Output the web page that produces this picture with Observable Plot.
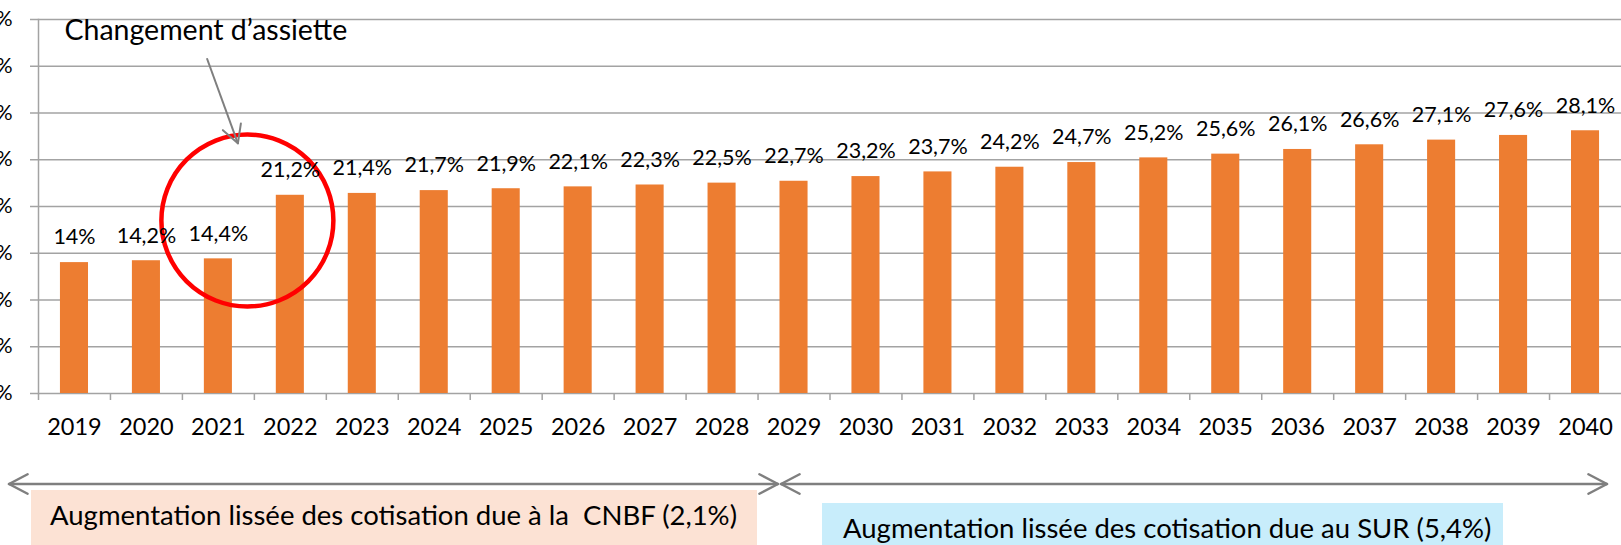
<!DOCTYPE html>
<html><head><meta charset="utf-8">
<script src="https://cdn.jsdelivr.net/npm/d3@7"></script>
<script src="https://cdn.jsdelivr.net/npm/@observablehq/plot@0.6"></script>
<style>
html,body{margin:0;padding:0;background:#fff;}
#wrap{position:relative;width:1621px;height:545px;overflow:hidden;font-family:Lato,sans-serif;}
#wrap svg{position:absolute;left:0;top:0;}
</style></head><body>
<div id="wrap"></div>
<script>
const years = ["2019","2020","2021","2022","2023","2024","2025","2026","2027","2028","2029","2030","2031","2032","2033","2034","2035","2036","2037","2038","2039","2040"];
const rates = [14.0,14.2,14.4,21.2,21.4,21.7,21.9,22.1,22.3,22.5,22.7,23.2,23.7,24.2,24.7,25.2,25.6,26.1,26.6,27.1,27.6,28.1];
const rateLabels = ["14%","14,2%","14,4%","21,2%","21,4%","21,7%","21,9%","22,1%","22,3%","22,5%","22,7%","23,2%","23,7%","24,2%","24,7%","25,2%","25,6%","26,1%","26,6%","27,1%","27,6%","28,1%"];
const yTicks = [0,5,10,15,20,25,30,35,40];
const calloutText = "Changement d’assiette";
const bandTexts = ["Augmentation lissée des cotisation due à la  CNBF (2,1%)", "Augmentation lissée des cotisation due au SUR (5,4%)"];

const data = years.map((y,i)=>({year:y, rate:rates[i], label:rateLabels[i]}));
const W = 1621, H = 445, ML = 38;
const step = (W - ML) / years.length;
const grey = "#a3a3a3";

const chart = Plot.plot({
  width: W, height: H,
  marginLeft: ML, marginRight: 0, marginTop: 19, marginBottom: 52,
  style: {fontFamily: "Lato, sans-serif", background: "transparent", overflow: "visible"},
  x: {domain: years, paddingInner: 0.61, paddingOuter: 0.305, round: false, axis: null, label: null},
  y: {domain: [0, 40], axis: null, label: null},
  marks: [
    Plot.gridY(yTicks, {stroke: grey, strokeOpacity: 1, strokeWidth: 1.5}),
    Plot.axisY(yTicks, {tickSize: 8, tickPadding: 18, stroke: grey, strokeWidth: 1.5, tickFormat: d => d + "%", fontSize: 21, fill: "black", label: null}),
    Plot.frame({anchor: "left", stroke: grey, strokeWidth: 1.5}),
    Plot.barY(data, {x: "year", y: "rate", fill: "#ED7D31"}),
    Plot.axisX(years, {tickSize: 7, dx: -step/2, stroke: grey, strokeWidth: 1.5, tickFormat: () => "", label: null}),
    Plot.axisX(years, {tickSize: 0, tickPadding: 25, fontSize: 23.5, fill: "black", label: null}),
    Plot.dot([{year: "2021", y: 18.5}], {x: "year", y: "y", r: 86, dx: 29, stroke: "#FF0000", strokeWidth: 4.5, fill: "none"}),
    Plot.text(data, {x: "year", y: "rate", text: "label", dy: -25, fontSize: 21.5, fill: "black"}),
    Plot.text([calloutText], {frameAnchor: "top-left", dx: 26, dy: 0, lineAnchor: "top", textAnchor: "start", fontSize: 28.5, fill: "black"})
  ]
});
document.getElementById("wrap").appendChild(chart);

// callout arrow using the chart's own scales
const xs = chart.scale("x"), ys = chart.scale("y");
const cx = xs.apply("2021") + xs.bandwidth / 2;
const svg = d3.select(chart);
function arrowHead(g, x1, y1, x2, y2, len, ang, color, w) {
  const a = Math.atan2(y1 - y2, x1 - x2);
  [ang, -ang].forEach(d => {
    g.append("line").attr("x1", x2).attr("y1", y2)
      .attr("x2", x2 + len * Math.cos(a + d)).attr("y2", y2 + len * Math.sin(a + d))
      .attr("stroke", color).attr("stroke-width", w).attr("stroke-linecap", "round");
  });
}
const ag = svg.append("g");
const ax1 = cx - 11, ay1 = ys.apply(35.8), ax2 = cx + 20, ay2 = ys.apply(26.7);
ag.append("line").attr("x1", ax1).attr("y1", ay1).attr("x2", ax2).attr("y2", ay2)
  .attr("stroke", "#7f7f7f").attr("stroke-width", 2);
arrowHead(ag, ax1, ay1, ax2, ay2, 20, Math.PI / 6.3, "#7f7f7f", 2);

// bottom period annotations
const ov = d3.select("#wrap").append("svg").attr("width", W).attr("height", 545)
  .style("font-family", "Lato, sans-serif");
ov.append("rect").attr("x", 31).attr("y", 490).attr("width", 726).attr("height", 70).attr("fill", "#FCE2D4");
ov.append("rect").attr("x", 822).attr("y", 503).attr("width", 681).attr("height", 60).attr("fill", "#C8EDFB");
ov.append("text").attr("x", 50).attr("y", 525).attr("font-size", 27.5).attr("fill", "black")
  .style("white-space", "pre").text(bandTexts[0]);
ov.append("text").attr("x", 843).attr("y", 538).attr("font-size", 27.5).attr("fill", "black")
  .style("white-space", "pre").text(bandTexts[1]);
const lineY = 484, ac = "#7f7f7f";
[[9, 778], [781, 1607]].forEach(([a, b]) => {
  ov.append("line").attr("x1", a).attr("y1", lineY).attr("x2", b).attr("y2", lineY)
    .attr("stroke", ac).attr("stroke-width", 2.5);
  arrowHead(ov, b, lineY, a, lineY, 21, Math.PI / 6.5, ac, 2.5);
  arrowHead(ov, a, lineY, b, lineY, 21, Math.PI / 6.5, ac, 2.5);
});
</script>
</body></html>
